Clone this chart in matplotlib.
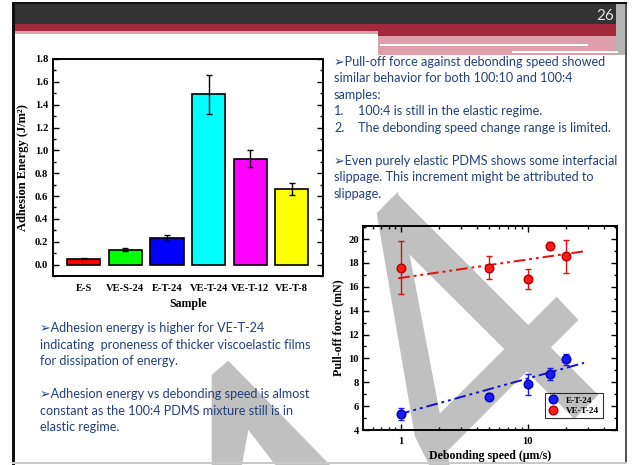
import matplotlib
matplotlib.use("Agg")
import matplotlib.pyplot as plt
from matplotlib.patches import Rectangle, Polygon
from matplotlib.ticker import MultipleLocator, LogLocator, NullFormatter, FixedLocator, FixedFormatter
from matplotlib.lines import Line2D

# ---------------- data ----------------
samples = ["E-S", "VE-S-24", "E-T-24", "VE-T-24", "VE-T-12", "VE-T-8"]
adhesion = [0.05, 0.13, 0.23, 1.49, 0.927, 0.664]
adhesion_err = [0.005, 0.012, 0.026, 0.168, 0.073, 0.053]
bar_colors = ["#ff0000", "#00ff00", "#0000ff", "#00ffff", "#ff00ff", "#ffff00"]

speed = [1, 5, 10, 15, 20]
force_et24 = [5.34, 6.79, 7.85, 8.69, 9.94]
force_et24_err = [0.5, 0.28, 0.88, 0.53, 0.45]
force_vet24 = [17.62, 17.62, 16.64, 19.46, 18.56]
force_vet24_err = [2.25, 1.0, 0.86, 0.3, 1.4]

fit_speed = [0.95, 28]
fit_et24 = [5.3, 9.63]
fit_vet24 = [16.72, 18.98]

W, H = 634, 465
fig = plt.figure(figsize=(W / 100, H / 100), dpi=100)
fig.patch.set_facecolor("white")


def fx(x):
    return x / W


def fy(y):
    return 1 - y / H


def rect(x0, y0, x1, y1, color, z=-5):
    fig.add_artist(Rectangle((fx(x0), fy(y1)), (x1 - x0) / W, (y1 - y0) / H,
                             transform=fig.transFigure, facecolor=color,
                             edgecolor="none", zorder=z))


def poly(pts, ox, oy, s=3.0, color="#c0c0c0"):
    xy = [(fx(ox + px / s), fy(oy + py / s)) for px, py in pts]
    fig.add_artist(Polygon(xy, closed=True, transform=fig.transFigure,
                           facecolor=color, edgecolor="none", zorder=-3))


# ---------------- slide frame and header ----------------
rect(13, 4, 616, 24, "#333333")
rect(13, 24, 616, 31, "#a2283b")
rect(13, 31, 378, 34, "#dea3ad")
rect(378, 31, 616, 36, "#a2283b")
rect(378, 36, 618, 55, "#dda0aa")
rect(380, 44.5, 588, 46, "white", z=-4)
rect(512, 51.5, 618, 53, "white", z=-4)
rect(616, 4, 625, 55, "#b4b4b4")
rect(12, 2.5, 627, 4, "#111111", z=-2)
rect(12, 2.5, 14.5, 465, "#111111", z=-2)
rect(625, 4, 626.5, 463, "#555555", z=-2)
rect(12, 461.5, 627, 463.5, "#c8c8c8", z=-2)
fig.text(fx(614), fy(16), "26", color="#e6e6e6", fontsize=11,
         family=["Lato", "DejaVu Sans"], ha="right", va="center")

# ---------------- watermark strokes ----------------
# right figure: three strokes (left leg, diagonal, crossbar)
poly([(140, 100), (203, 36), (360, 860), (300, 860), (255, 770)], 330, 180)
poly([(200, 40), (805, 645), (733, 717), (230, 215)], 330, 180)
poly([(300, 730), (680, 350), (745, 420), (320, 845)], 330, 180)
# lower left figure
poly([(95, 105), (145, 62), (455, 380), (290, 380), (205, 270), (185, 380), (95, 380)], 180, 340)

# ---------------- text ----------------
txt_color = "#23407a"
tfam = ["Lato", "DejaVu Sans"]
tsize = 9.1
right_lines = [
    (334, 61.7, "\u27a2Pull-off force against debonding speed showed"),
    (334, 78.3, "similar behavior for both 100:10 and 100:4"),
    (334, 95, "samples:"),
    (334, 111, "1."),
    (358, 111, "100:4 is still in the elastic regime."),
    (334, 127.7, "2."),
    (358, 127.7, "The debonding speed change range is limited."),
    (334, 160.7, "\u27a2Even purely elastic PDMS shows some interfacial"),
    (334, 177.3, "slippage. This increment might be attributed to"),
    (334, 194, "slippage."),
]
left_lines = [
    (40, 328.3, "\u27a2Adhesion energy is higher for VE-T-24"),
    (40, 345, "indicating  proneness of thicker viscoelastic films"),
    (40, 361, "for dissipation of energy."),
    (40, 394, "\u27a2Adhesion energy vs debonding speed is almost"),
    (40, 410.7, "constant as the 100:4 PDMS mixture still is in"),
    (40, 427, "elastic regime."),
]
for x, y, s in right_lines + left_lines:
    fig.text(fx(x), fy(y), s, color=txt_color, fontsize=tsize, family=tfam,
             ha="left", va="center", zorder=3)

serif = "Liberation Serif"

# ---------------- bar chart ----------------
ax1 = fig.add_axes([fx(52.5), fy(276), 270.5 / W, 217 / H])
pos = list(range(len(samples)))
ax1.bar(pos, adhesion, width=0.8, color=bar_colors, edgecolor="black", linewidth=1.2,
        yerr=adhesion_err, error_kw=dict(ecolor="black", elinewidth=1.0, capsize=2.5, capthick=1.0))
ax1.set_xlim(-0.75, 5.75)
ax1.set_ylim(-0.1, 1.8)
ax1.set_xticks(pos)
ax1.set_xticklabels(samples, fontfamily=serif, fontweight="bold", fontsize=7.6)
ax1.yaxis.set_major_locator(MultipleLocator(0.2))
ax1.yaxis.set_minor_locator(MultipleLocator(0.1))
ax1.set_yticklabels([f"{v:.1f}" for v in ax1.get_yticks()], fontfamily=serif,
                    fontweight="bold", fontsize=7.6)
ax1.tick_params(axis="y", which="major", direction="in", length=4, width=1, left=True, right=True, pad=3)
ax1.tick_params(axis="y", which="minor", direction="in", length=2, width=1, left=True, right=True)
ax1.tick_params(axis="x", which="both", length=0, pad=6)
for sp in ax1.spines.values():
    sp.set_linewidth(1.4)
ax1.set_ylabel("Adhesion Energy (J/m\u00b2)", fontfamily=serif, fontweight="bold", fontsize=9)
ax1.set_xlabel("Sample", fontfamily=serif, fontweight="bold", fontsize=8.6)
ax1.yaxis.set_label_coords(-0.087, 0.5)
ax1.xaxis.set_label_coords(0.5, -0.10)

# ---------------- pull-off force chart ----------------
ax2 = fig.add_axes([fx(363), fy(430), 254 / W, 204 / H])
ax2.set_facecolor("none")
ax2.set_xscale("log")
ax2.plot(fit_speed, fit_vet24, color="#e01010", lw=1.4, ls=(0, (6, 2, 1.5, 2, 1.5, 2)), zorder=2)
ax2.plot(fit_speed, fit_et24, color="#1010dd", lw=1.4, ls=(0, (6, 2, 1.5, 2, 1.5, 2)), zorder=2)
ax2.errorbar(speed, force_et24, yerr=force_et24_err, fmt="o", color="#1a1aff",
             mfc="#1a1aff", mec="#0000a8", ms=6.2, ecolor="#1a1aff", elinewidth=1.0,
             capsize=2.2, capthick=1.0, zorder=3)
ax2.errorbar(speed, force_vet24, yerr=force_vet24_err, fmt="o", color="#ff1a1a",
             mfc="#ff1a1a", mec="#b00000", ms=6.2, ecolor="#dd1010", elinewidth=1.0,
             capsize=2.2, capthick=1.0, zorder=3)
ax2.set_xlim(0.5, 51)
ax2.set_ylim(4, 21.1)
ax2.xaxis.set_major_locator(FixedLocator([1, 10]))
ax2.xaxis.set_major_formatter(FixedFormatter(["1", "10"]))
ax2.xaxis.set_minor_locator(LogLocator(base=10, subs=range(2, 10)))
ax2.xaxis.set_minor_formatter(NullFormatter())
ax2.yaxis.set_major_locator(MultipleLocator(2))
ax2.yaxis.set_minor_locator(MultipleLocator(1))
for lab in ax2.get_xticklabels() + ax2.get_yticklabels():
    lab.set_fontfamily(serif)
    lab.set_fontweight("bold")
    lab.set_fontsize(7.6)
ax2.tick_params(which="major", direction="in", length=4, width=1, top=True, right=True, pad=3)
ax2.tick_params(which="minor", direction="in", length=2, width=1, top=True, right=True)
ax2.tick_params(axis="x", which="major", pad=5)
for sp in ax2.spines.values():
    sp.set_linewidth(1.4)
ax2.set_ylabel("Pull-off force (mN)", fontfamily=serif, fontweight="bold", fontsize=8.6)
ax2.set_xlabel("Debonding speed (\u03bcm/s)", fontfamily=serif, fontweight="bold", fontsize=8.6)
ax2.yaxis.set_label_coords(-0.075, 0.5)
ax2.xaxis.set_label_coords(0.5, -0.10)

handles = [Line2D([], [], ls="none", marker="o", ms=6.2, mfc="#1a1aff", mec="#0000a8"),
           Line2D([], [], ls="none", marker="o", ms=6.2, mfc="#ff1a1a", mec="#b00000")]
leg = ax2.legend(handles, ["E-T-24", "VE-T-24"], loc="lower right",
                 bbox_to_anchor=(0.961, 0.034), frameon=True, fancybox=False,
                 prop=dict(family=serif, weight="bold", size=6.6),
                 handlelength=1.2, handletextpad=0.8, borderpad=0.35, labelspacing=0.25)
leg.get_frame().set_facecolor("none")
leg.get_frame().set_edgecolor("black")
leg.get_frame().set_linewidth(0.8)

fig.savefig("out.png", dpi=100, facecolor="white")
